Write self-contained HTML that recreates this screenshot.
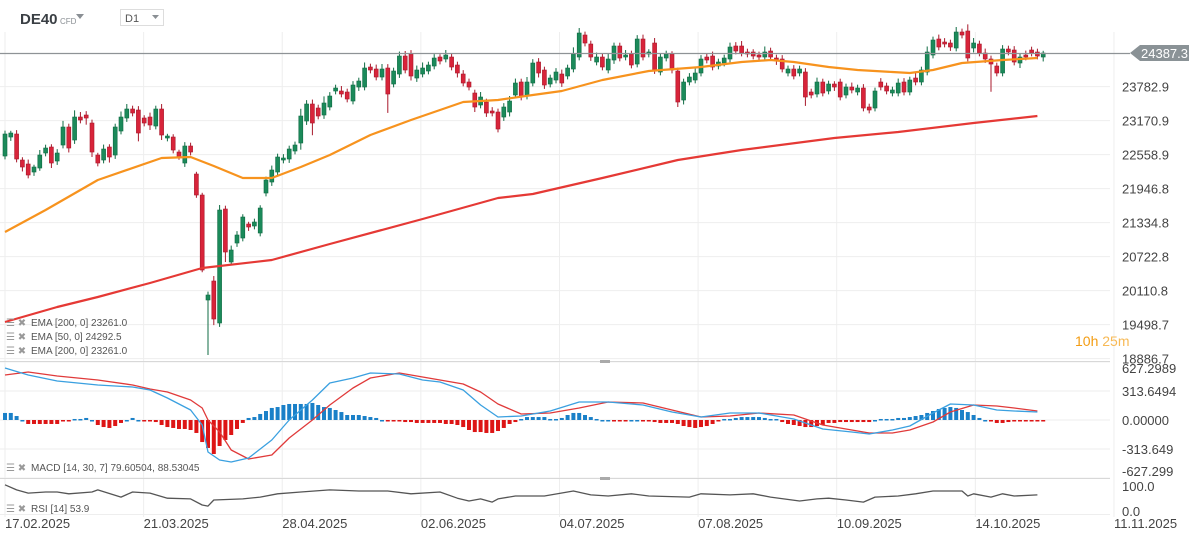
<!DOCTYPE html>
<html><head><meta charset="utf-8">
<style>
html,body{margin:0;padding:0;background:#fff;}
body{width:1201px;height:541px;overflow:hidden;position:relative;font-family:"Liberation Sans",sans-serif;}
svg{position:absolute;left:0;top:0;}
text{font-family:"Liberation Sans",sans-serif;}
</style></head>
<body>
<svg id="chart" width="1201" height="541" viewBox="0 0 1201 541">
  <g id="grid"></g>
  <g id="header">
    <text x="20" y="24" font-size="15" font-weight="bold" fill="#3a3f44">DE40</text>
    <text x="60" y="24" font-size="8" fill="#8a8f94">CFD</text>
    <path d="M76 14 L84 14 L80 19 Z" fill="#8a8f94"/>
    <rect x="120.5" y="9.5" width="43" height="16" fill="#fff" stroke="#ddd"/>
    <text x="125" y="22" font-size="11" fill="#555">D1</text>
    <path d="M152 15 L159 15 L155.5 19 Z" fill="#8a8f94"/>
  </g>
  <g id="candles"></g>
  <g id="emas"></g>
  <g id="macd"></g>
  <g id="rsi"></g>
  <g id="axes"></g>
  <g id="legend">
    <g><text x="6" y="326" font-size="10" fill="#999">☰ ✖</text><text x="31" y="326" font-size="10" fill="#555">EMA [200,  0] 23261.0</text></g>
    <g><text x="6" y="340" font-size="10" fill="#999">☰ ✖</text><text x="31" y="340" font-size="10" fill="#555">EMA [50,  0] 24292.5</text></g>
    <g><text x="6" y="354" font-size="10" fill="#999">☰ ✖</text><text x="31" y="354" font-size="10" fill="#555">EMA [200,  0] 23261.0</text></g>
    <g><text x="6" y="471" font-size="10" fill="#999">☰ ✖</text><text x="31" y="471" font-size="10" fill="#555">MACD [14, 30, 7] 79.60504,  88.53045</text></g>
    <g><text x="6" y="512" font-size="10" fill="#999">☰ ✖</text><text x="31" y="512" font-size="10" fill="#555">RSI [14]  53.9</text></g>
  </g>
  <text x="1075" y="346" font-size="14" fill="#f39c12">10h <tspan fill="#f7b955">25m</tspan></text>
</svg>
<script>
// ---- data ----
const opens = [22533,22875,22929,22461,22389,22245,22317,22587,22695,22443,22731,23055,22821,23235,23271,23127,22551,22461,22695,22551,22983,23217,23379,23361,23217,23235,23073,23379,22857,22875,22605,22407,22713,22209,21831,19941,20283,19527,21579,20625,20967,21057,21309,21273,21147,21867,22065,22245,22461,22479,22623,22767,23163,23469,23397,23271,23415,23703,23703,23685,23523,23775,23775,24135,24099,23955,24117,23829,24009,24333,24369,23937,24009,24063,24153,24315,24279,24315,24171,24009,23865,23667,23451,23505,23343,23325,23235,23325,23631,23865,23613,23847,24225,24081,23829,23901,24009,23973,24099,24315,24711,24549,24225,24315,24081,24261,24513,24315,24369,24189,24639,24369,24567,24045,24297,24369,24063,23541,23865,23901,24027,24315,24333,24153,24207,24279,24513,24513,24405,24405,24351,24315,24423,24297,24279,24027,24099,24027,24045,23685,23649,23865,23703,23829,23865,23631,23775,23685,23757,23415,23397,23865,23793,23667,23667,23865,23685,23937,23865,24045,24351,24639,24585,24567,24477,24765,24783,24477,24549,24387,24279,24153,24027,24459,24441,24207,24351,24441,24405,24315];
const closes = [22929,22947,22479,22335,22191,22335,22551,22677,22407,22587,23055,22677,23235,23181,23217,22605,22407,22659,22515,23055,23235,23379,23307,22947,23127,23091,23379,22911,22893,22641,22515,22713,22605,21831,20481,20031,19599,21561,20805,20841,21111,21435,21255,21345,21597,22101,22281,22515,22497,22659,22731,23253,23469,23127,23253,23487,23613,23757,23649,23559,23811,23883,24117,24081,23955,24099,23649,24063,24333,24081,23973,24081,24117,24171,24297,24243,24351,24135,24027,23847,23775,23415,23595,23307,23307,23019,23415,23523,23847,23595,23865,24207,24027,23811,23937,24045,23847,24117,24369,24747,24567,24315,24315,24135,24279,24513,24297,24351,24171,24639,24315,24405,24081,24315,24369,24081,23505,23865,23955,24027,24279,24261,24135,24225,24297,24495,24423,24387,24369,24333,24315,24405,24315,24243,24099,24099,23973,24099,23595,23631,23865,23667,23829,23775,23595,23775,23721,23757,23397,23361,23703,23775,23703,23721,23847,23685,23901,23865,24081,24405,24621,24495,24549,24495,24765,24711,24297,24567,24387,24279,24189,24027,24459,24405,24225,24315,24315,24387,24333,24387];
const wickUp = [60,40,70,50,80,40,90,60,50,70,110,60,120,90,70,60,40,80,50,60,100,90,60,70,50,80,60,90,40,50,40,70,60,40,40,60,90,90,60,80,70,50,40,60,50,60,80,60,70,60,60,130,70,80,60,120,70,60,90,60,70,60,100,60,80,90,70,60,80,90,70,80,100,60,70,50,90,70,60,70,60,60,90,60,70,60,70,90,80,60,90,70,70,60,60,70,80,60,120,90,60,60,80,70,90,60,60,90,60,70,80,50,90,60,60,50,60,60,70,80,70,60,80,60,60,80,70,90,60,50,60,100,60,60,70,60,70,60,70,60,80,60,60,50,60,60,80,60,70,60,60,70,60,60,80,70,60,90,60,100,60,80,70,60,90,60,120,90,60,80,60,60,70,60,70,60,80,60,60,40];
const wickDn = [60,70,60,80,60,70,50,60,90,70,60,80,70,60,120,90,60,60,100,70,60,70,60,150,60,90,60,90,60,60,50,70,60,50,40,990,110,70,180,60,70,60,70,60,60,60,70,60,60,70,60,120,70,220,60,70,60,60,60,60,60,70,60,60,60,60,340,60,70,60,80,70,60,60,60,60,60,60,80,60,60,90,60,70,60,60,70,80,60,60,60,60,80,70,60,60,70,60,60,60,60,70,60,60,60,70,60,60,60,60,60,60,70,60,60,60,90,80,60,60,60,60,60,60,60,60,60,60,60,60,60,60,60,70,60,60,60,60,160,60,60,60,60,70,60,60,60,60,60,60,60,60,60,60,60,60,60,60,60,60,60,60,60,70,60,60,60,80,60,70,500,60,60,60,60,90,60,60,60,80];
const ema50Idx = [0,7,16,27,32,36,41,46,51,56,63,70,79,85,91,96,103,111,120,127,132,136,142,147,153,156,160,165,172,178];
const ema50Val = [21165,21561,22101,22497,22515,22353,22137,22137,22335,22551,22911,23181,23505,23541,23631,23703,23901,24063,24135,24225,24261,24225,24135,24081,24045,24027,24081,24207,24261,24297];
const ema200Idx = [0,9,16,25,34,46,56,72,85,91,103,116,127,143,154,167,178];
const ema200Val = [19545,19815,19995,20247,20517,20661,20949,21399,21777,21849,22137,22461,22641,22857,22965,23127,23253];
const macdIdx = [0,4,9,16,22,25,28,32,34,35,37,39,42,46,49,53,56,60,63,68,72,75,79,82,85,89,94,99,104,110,115,120,125,130,136,141,146,149,153,156,160,163,167,171,174,178];
const macdVal = [562,486,421,378,356,324,238,108,-54,-346,-432,-454,-410,-216,0,216,400,454,508,497,432,410,324,162,32,43,97,194,194,162,86,32,76,76,11,-97,-130,-151,-108,-65,76,173,162,108,97,86];
const signalVal = [486,518,475,432,378,335,302,216,130,0,-130,-324,-421,-378,-194,0,162,346,454,508,464,432,389,302,173,65,76,130,194,184,108,32,43,76,54,-54,-108,-140,-140,-108,-22,86,162,151,130,97];
const histVal = [76,76,43,0,-43,-43,-43,-43,-43,-43,-11,-11,11,11,22,0,-54,-76,-86,-65,-32,0,22,0,-11,-11,-22,-54,-76,-86,-97,-97,-108,-140,-238,-302,-367,-281,-216,-162,-97,-32,22,32,65,97,130,140,162,173,173,173,173,184,162,140,130,108,86,54,54,54,43,32,22,0,-11,-11,-11,-22,-22,-32,-32,-32,-32,-32,-43,-43,-54,-76,-108,-130,-130,-140,-140,-119,-86,-43,-22,11,32,32,32,32,11,11,22,54,76,76,54,32,11,0,0,-11,-11,-11,0,0,-11,-11,-22,-32,-32,-32,-43,-65,-76,-86,-76,-65,-43,-11,11,11,22,32,32,32,32,22,11,11,-22,-43,-54,-65,-76,-76,-65,-54,-32,-32,-22,-22,-22,-22,-22,-22,0,11,11,11,22,22,32,43,54,76,97,119,130,140,130,108,86,54,22,0,-11,-32,-32,-22,-11,-11,-11,-11,-11,-11];
const rsiIdx = [0,2,4,7,9,11,15,16,20,22,25,28,32,34,35,36,41,44,47,51,56,61,66,70,75,78,80,82,84,85,88,93,98,101,104,108,111,118,120,125,129,132,137,140,142,145,148,150,154,157,160,165,166,167,170,172,174,178];
const rsiVal = [81,67,58,61,61,56,61,67,47,61,58,44,42,25,22,39,42,47,56,61,67,64,64,56,61,44,36,42,33,42,50,50,64,53,50,56,50,47,56,53,56,47,36,42,44,39,33,47,50,56,64,64,50,56,47,56,50,53];
const priceTicks = [23782.9,23170.9,22558.9,21946.8,21334.8,20722.8,20110.8,19498.7,18886.7];
const lastPrice = 24387.3;
const macdTicks = [627.2989,313.6494,0,-313.649,-627.299];
const macdTickLabels = ["627.2989","313.6494","0.00000","-313.649","-627.299"];
const rsiTicks = [100,0];
const dateLabels = ["17.02.2025","21.03.2025","28.04.2025","02.06.2025","04.07.2025","07.08.2025","10.09.2025","14.10.2025","11.11.2025"];
const dateIdx = [0,23.9,47.8,71.7,95.6,119.5,143.4,167.3,191.2];

// ---- scales ----
const NS='http://www.w3.org/2000/svg';
const X = i => 5 + i*5.8;
const PY = p => 53 + (lastPrice - p)/18;
const MY = v => 420 - v/10.8;
const RY = v => 514 - v*0.36;
function mk(tag, attrs, parent){const e=document.createElementNS(NS,tag);for(const k in attrs)e.setAttribute(k,attrs[k]);parent.appendChild(e);return e;}
const grid=document.getElementById('grid'), cg=document.getElementById('candles'), eg=document.getElementById('emas'), mg=document.getElementById('macd'), rg=document.getElementById('rsi'), ag=document.getElementById('axes');

// grid
dateIdx.forEach((d,k)=>{
  const l=mk('line',{x1:X(d),x2:X(d),y1:32,y2:517,stroke:'#eeeeee','stroke-width':1},grid);
  
  
});
priceTicks.forEach(p=>{
  const l=mk('line',{x1:0,x2:1110,y1:PY(p),y2:PY(p),stroke:'#eeeeee'},grid);
  
  
});
macdTicks.forEach(v=>{
  const l=mk('line',{x1:0,x2:1110,y1:MY(v),y2:MY(v),stroke:'#eeeeee'},grid);
  
  
});
[361,478].forEach(y=>{
  const l=mk('line',{x1:0,x2:1110,y1:y+0.5,y2:y+0.5,stroke:'#d8d8d8'},grid);
  
  
  const h=mk('rect',{x:600,y:y-1,width:10,height:3,fill:'#aaa'},grid);
  
  
});
const rl=mk('line',{x1:0,x2:1110,y1:RY(0)+0.5,y2:RY(0)+0.5,stroke:'#eeeeee'},grid);



// candles
opens.forEach((o,i)=>{
  const c=closes[i], up=c>=o;
  const col=up?'#1b8a5a':'#d8243a', edge=up?'#0f6b43':'#a8182b';
  const hi=Math.max(o,c)+wickUp[i], lo=Math.min(o,c)-wickDn[i];
  const x=X(i);
  const w=mk('line',{x1:x,x2:x,y1:PY(hi),y2:PY(lo),stroke:edge,'stroke-width':1},cg);
  
  
  const top=PY(Math.max(o,c)), h=Math.max(1.5,PY(Math.min(o,c))-top);
  const b=mk('rect',{x:x-2,y:top,width:4,height:h,fill:col,stroke:edge,'stroke-width':0.6},cg);
  
  
});

function poly(idx,vals,yf,color,width,parent,name){
  const pts=idx.map((d,k)=>X(d).toFixed(1)+','+yf(vals[k]).toFixed(1)).join(' ');
  const p=mk('polyline',{points:pts,fill:'none',stroke:color,'stroke-width':width,'stroke-linejoin':'round'},parent);
  
  
}
poly(ema200Idx,ema200Val,PY,'#e53935',2.2,eg,'ema200-line');
poly(ema50Idx,ema50Val,PY,'#f7931e',2.2,eg,'ema50-line');

// last price line
const lp=mk('line',{x1:0,x2:1130,y1:PY(lastPrice)+0.5,y2:PY(lastPrice)+0.5,stroke:'#8e9396','stroke-width':1.2},ag);


const tag=mk('path',{d:`M1130 ${PY(lastPrice)} L1140 ${PY(lastPrice)-8} L1189 ${PY(lastPrice)-8} L1189 ${PY(lastPrice)+8} L1140 ${PY(lastPrice)+8} Z`,fill:'#8a9296'},ag);


const tt=mk('text',{x:1141,y:PY(lastPrice)+5,'font-size':13,fill:'#fff'},ag);
tt.textContent=lastPrice.toFixed(1);



// histogram
histVal.forEach((v,i)=>{
  const y0=MY(0), y1=MY(v);
  const r=mk('rect',{x:X(i)-2,y:Math.min(y0,y1),width:4,height:Math.max(1.5,Math.abs(y1-y0)),fill:v>=0?'#1a80c8':'#dd1515'},mg);
  
  
});
poly(macdIdx,signalVal,MY,'#e03a3a',1.3,mg,'macd-signal-line');
poly(macdIdx,macdVal,MY,'#3aa0e0',1.3,mg,'macd-line');
poly(rsiIdx,rsiVal,RY,'#555',1.3,rg,'rsi-line');

// axis labels
priceTicks.forEach(p=>{
  const t=mk('text',{x:1122,y:PY(p)+5,'font-size':13,fill:'#444'},ag);
  t.textContent=p.toFixed(1);
  
  
});
macdTicks.forEach((v,k)=>{
  const t=mk('text',{x:1122,y:Math.min(476,Math.max(373,MY(v)+5)),'font-size':13,fill:'#444'},ag);
  t.textContent=macdTickLabels[k];
  
  
});
[[100,491],[0,516]].forEach(a=>{
  const t=mk('text',{x:1122,y:a[1],'font-size':13,fill:'#444'},ag);
  t.textContent=a[0].toFixed(1);
  
  
});
dateLabels.forEach((d,k)=>{
  const t=mk('text',{x:X(dateIdx[k]),y:528,'font-size':13,fill:'#444'},ag);
  t.textContent=d;
  
  
});
</script>
</body></html>
